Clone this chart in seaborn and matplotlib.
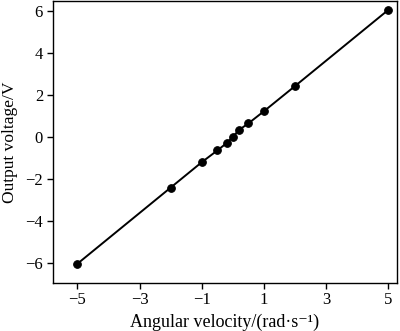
import matplotlib
matplotlib.use("Agg")
import matplotlib.pyplot as plt
import seaborn as sns
import pandas as pd

# Calibration: gyroscope output vs. applied angular velocity
angular_velocity = [-5, -2, -1, -0.5, -0.2, 0, 0.2, 0.5, 1, 2, 5]
output_voltage = [-6.05, -2.42, -1.21, -0.65, -0.3, 0.0, 0.33, 0.64, 1.22, 2.42, 6.05]
x_ticks = [-5, -3, -1, 1, 3, 5]
y_ticks = [-6, -4, -2, 0, 2, 4, 6]

sns.set_theme(style="ticks")
plt.rcParams["font.family"] = ["Liberation Serif", "DejaVu Serif"]

df = pd.DataFrame({"w": angular_velocity, "v": output_voltage})

fig = plt.figure(figsize=(4.0, 3.31), dpi=100)
ax = fig.add_axes([0.132, 0.146, 0.860, 0.851])

sns.lineplot(data=df, x="w", y="v", ax=ax, color="black", linewidth=1.4,
             marker="o", markersize=5.5, markeredgecolor="black",
             markerfacecolor="black", sort=False)

ax.set_xlim(-5.79, 5.27)
ax.set_ylim(-6.95, 6.47)
ax.set_xticks(x_ticks)
ax.set_yticks(y_ticks)
ax.set_xticklabels([f"{t}".replace("-", "\u2212") for t in x_ticks])
ax.set_yticklabels([f"{t}".replace("-", "\u2212") for t in y_ticks])
ax.tick_params(axis="both", direction="out", length=4, width=1, labelsize=12,
               color="black", labelcolor="black", pad=3)
for s in ax.spines.values():
    s.set_visible(True)
    s.set_color("black")
    s.set_linewidth(1.0)

ax.set_xlabel("Angular velocity/(rad\u00b7s\u207b\u00b9)", fontsize=13, color="black", labelpad=4)
ax.set_ylabel("Output voltage/V", fontsize=12.5, color="black", labelpad=5)

fig.savefig("out.png", dpi=100)
